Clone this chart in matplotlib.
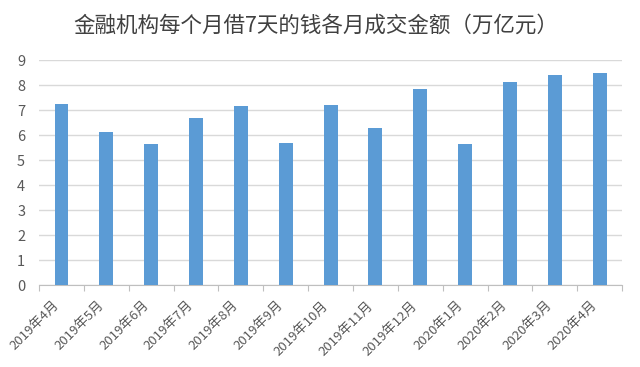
import matplotlib
matplotlib.use('Agg')
from matplotlib import pyplot as plt

plt.rcParams['font.family'] = ['Noto Sans CJK SC', 'DejaVu Sans']

# 数据
months = ['2019年4月', '2019年5月', '2019年6月', '2019年7月', '2019年8月', '2019年9月',
          '2019年10月', '2019年11月', '2019年12月', '2020年1月', '2020年2月',
          '2020年3月', '2020年4月']
volumes = [7.24, 6.13, 5.63, 6.68, 7.16, 5.67, 7.20, 6.29, 7.84, 5.65, 8.11, 8.39, 8.48]

fig = plt.figure(figsize=(6.4, 3.67), dpi=100)
ax = fig.add_axes([0.061, 0.2234, 0.911, 0.6131])

x = range(len(months))
ax.bar(x, volumes, width=0.31, color='#5b9bd5', zorder=3)

# 坐标轴
ax.set_xlim(-0.5, len(months) - 0.5)
ax.set_ylim(0, 9)
ax.set_yticks(range(0, 10))
ax.yaxis.grid(True, color='#d9d9d9', linewidth=1, zorder=0)
for s in ['top', 'right', 'left']:
    ax.spines[s].set_visible(False)
ax.spines['bottom'].set_color('#bfbfbf')
ax.tick_params(axis='y', length=0, labelsize=10.5, labelcolor='#595959', pad=10)

# 分类边界刻度
ax.set_xticks([i + 0.5 for i in range(-1, len(months))])
ax.set_xticklabels([])
ax.tick_params(axis='x', which='major', length=4, color='#bfbfbf')
# 分类标签
ax.set_xticks(list(x), minor=True)
ax.set_xticklabels(months, minor=True, rotation=45, ha='right', va='top',
                   fontsize=9.5, color='#595959')
ax.tick_params(axis='x', which='minor', length=0, pad=10)

# 标题
fig.text(0.494, 0.929, '金融机构每个月借7天的钱各月成交金额（万亿元）',
         ha='center', va='center', fontsize=15.5, color='#404040')

plt.savefig('out.png', dpi=100)
